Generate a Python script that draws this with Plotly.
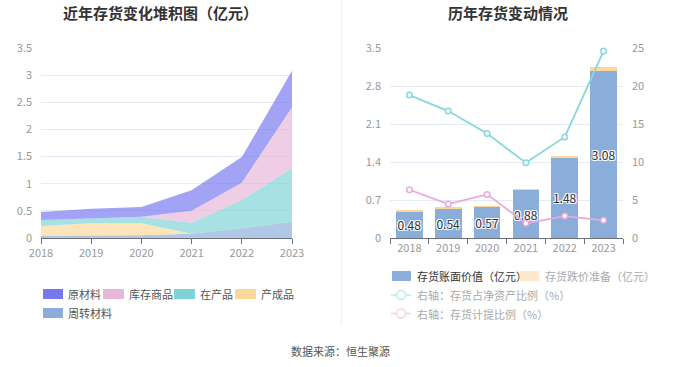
import plotly.graph_objects as go

W, H = 680, 367

years = ["2018", "2019", "2020", "2021", "2022", "2023"]

# left stacked area (亿元)
zhouzhuan = [0.04, 0.04, 0.05, 0.08, 0.18, 0.30]   # 周转材料
chengpin = [0.18, 0.23, 0.22, 0.00, 0.00, 0.00]    # 产成品
zaichan = [0.11, 0.09, 0.12, 0.20, 0.52, 0.99]     # 在产品
kucun = [0.00, 0.00, 0.00, 0.22, 0.32, 1.12]       # 库存商品
yuancailiao = [0.15, 0.18, 0.18, 0.38, 0.47, 0.67] # 原材料

# right chart
book_value = [0.48, 0.54, 0.57, 0.88, 1.48, 3.08]  # 存货账面价值
reserve = [0.03, 0.025, 0.025, 0.02, 0.03, 0.07]   # 存货跌价准备
ratio_net = [18.8, 16.7, 13.75, 9.9, 13.3, 24.6]   # 存货占净资产比例 %
ratio_prov = [6.35, 4.47, 5.74, 1.93, 2.89, 2.32]  # 存货计提比例 %

left_ticks = [0, 0.5, 1, 1.5, 2, 2.5, 3, 3.5]
right_left_ticks = [0, 0.7, 1.4, 2.1, 2.8, 3.5]
right_right_ticks = [0, 5, 10, 15, 20, 25]

FONT = "Noto Sans CJK SC"
C_YCL = "#7678ef"
C_KC = "#e8b6d9"
C_ZC = "#7fd3d6"
C_CP = "#fdd796"
C_ZZ = "#8badd9"


def px(x):
    return x / W


def py(y):
    return 1 - y / H


def rgba(hexc, a):
    h = hexc.lstrip("#")
    r, g, b = int(h[0:2], 16), int(h[2:4], 16), int(h[4:6], 16)
    return f"rgba({r},{g},{b},{a})"


fig = go.Figure()

area_series = [
    ("周转材料", zhouzhuan, C_ZZ),
    ("产成品", chengpin, C_CP),
    ("在产品", zaichan, C_ZC),
    ("库存商品", kucun, C_KC),
    ("原材料", yuancailiao, C_YCL),
]
for name, vals, col in area_series:
    fig.add_trace(go.Scatter(
        x=years, y=vals, name=name, stackgroup="s", mode="lines",
        line=dict(width=0, color=col), fillcolor=rgba(col, 0.68),
        xaxis="x", yaxis="y", showlegend=False,
    ))

fig.add_trace(go.Bar(
    x=years, y=book_value, name="存货账面价值（亿元）", marker=dict(color=C_ZZ, line=dict(width=0)),
    width=0.69, xaxis="x2", yaxis="y2", showlegend=False,
    text=[f"{v:.2f}" for v in book_value], textposition="inside", insidetextanchor="middle",
    textangle=0,
    textfont=dict(color="#333333", size=12, family=FONT,
                  shadow="1px 1px 0 #fff, -1px -1px 0 #fff, 1px -1px 0 #fff, -1px 1px 0 #fff"),
    constraintext="none", cliponaxis=False,
))
fig.add_trace(go.Bar(
    x=years, y=reserve, name="存货跌价准备（亿元）", marker=dict(color=C_CP, line=dict(width=0)),
    width=0.69, xaxis="x2", yaxis="y2", showlegend=False,
))
fig.add_trace(go.Scatter(
    x=years, y=ratio_net, mode="lines+markers", name="右轴：存货占净资产比例（%）",
    line=dict(color="#86d8dc", width=1.8),
    marker=dict(symbol="circle", size=5.5, color="white", line=dict(color="#86d8dc", width=1.5)),
    xaxis="x2", yaxis="y3", showlegend=False, cliponaxis=False,
))
fig.add_trace(go.Scatter(
    x=years, y=ratio_prov, mode="lines+markers", name="右轴：存货计提比例（%）",
    line=dict(color="#e7a9dc", width=1.8),
    marker=dict(symbol="circle", size=5.5, color="white", line=dict(color="#e7a9dc", width=1.5)),
    xaxis="x2", yaxis="y3", showlegend=False, cliponaxis=False,
))

ydom = [py(238), py(48)]
tickfont = dict(family=FONT, size=11, color="#999999")
axis_line = "#6e7079"
grid = "#e6eaf4"

layout = dict(
    template="none",
    width=W, height=H, margin=dict(l=0, r=0, t=0, b=0, pad=0, autoexpand=False),
    paper_bgcolor="white", plot_bgcolor="white",
    font=dict(family=FONT),
    barmode="stack", bargap=0.31, showlegend=False, hovermode=False,
    xaxis=dict(domain=[px(41), px(292)], type="category", range=[0, 5],
               showline=True, linecolor=axis_line, linewidth=1, ticks="outside", ticklen=5,
               tickcolor=axis_line, tickfont=tickfont, showgrid=False, anchor="y",
               automargin=False, zeroline=False),
    yaxis=dict(domain=ydom, range=[0, 3.5], tickvals=left_ticks,
               ticktext=[f"{v:g}" for v in left_ticks],
               showgrid=True, gridcolor=grid, gridwidth=1, zeroline=False,
               showline=False, tickfont=tickfont, ticks="", anchor="x",
               automargin=False, ticklabelstandoff=8),
    xaxis2=dict(domain=[px(390), px(623)], type="category", range=[-0.5, 5.5],
                showline=True, linecolor=axis_line, linewidth=1, ticks="outside", ticklen=5,
                tickcolor=axis_line, tickson="boundaries", tickfont=tickfont,
                showgrid=False, anchor="y2", automargin=False, zeroline=False),
    yaxis2=dict(domain=ydom, range=[0, 3.5], tickvals=right_left_ticks,
                ticktext=[f"{v:g}" for v in right_left_ticks],
                showgrid=True, gridcolor=grid, zeroline=False, showline=False,
                tickfont=tickfont, ticks="", anchor="x2", automargin=False,
                ticklabelstandoff=8),
    yaxis3=dict(range=[0, 25], tickvals=right_right_ticks,
                ticktext=[str(v) for v in right_right_ticks],
                overlaying="y2", side="right", anchor="x2", showgrid=False,
                zeroline=False, showline=False, tickfont=tickfont, ticks="",
                automargin=False, ticklabelstandoff=8),
)
fig.update_layout(**layout)

shapes = []
annos = []

# titles
annos.append(dict(x=px(160), y=py(13), xref="paper", yref="paper", text="<b>近年存货变化堆积图（亿元）</b>",
                  showarrow=False, font=dict(family=FONT, size=15, color="#333333"),
                  xanchor="center", yanchor="middle"))
annos.append(dict(x=px(508), y=py(13), xref="paper", yref="paper", text="<b>历年存货变动情况</b>",
                  showarrow=False, font=dict(family=FONT, size=15, color="#333333"),
                  xanchor="center", yanchor="middle"))
# source
annos.append(dict(x=px(340), y=py(351), xref="paper", yref="paper", text="数据来源：恒生聚源",
                  showarrow=False, font=dict(family=FONT, size=11, color="#555555"),
                  xanchor="center", yanchor="middle"))

# separator
shapes.append(dict(type="line", xref="paper", yref="paper", x0=px(341.5), x1=px(341.5),
                   y0=py(0), y1=py(325), line=dict(color="#f0f0f0", width=1)))


def swatch(x0, x1, yc, color):
    shapes.append(dict(type="rect", xref="paper", yref="paper", x0=px(x0), x1=px(x1),
                       y0=py(yc + 5), y1=py(yc - 5), fillcolor=color, line=dict(width=0)))


def label(x, yc, text, color="#555555"):
    annos.append(dict(x=px(x), y=py(yc), xref="paper", yref="paper", text=text, showarrow=False,
                      font=dict(family=FONT, size=11, color=color), xanchor="left", yanchor="middle"))


def line_icon(x0, x1, yc, color):
    shapes.append(dict(type="line", xref="paper", yref="paper", x0=px(x0), x1=px(x1),
                       y0=py(yc), y1=py(yc), line=dict(color=color, width=1.5)))
    cx = (x0 + x1) / 2
    shapes.append(dict(type="circle", xref="paper", yref="paper", x0=px(cx - 4.5), x1=px(cx + 4.5),
                       y0=py(yc + 4.5), y1=py(yc - 4.5), fillcolor="white",
                       line=dict(color=color, width=1.5)))


# left legend
swatch(43, 63, 294, C_YCL); label(66, 294, "原材料")
swatch(103, 124, 294, C_KC); label(127, 294, "库存商品")
swatch(174, 195, 294, C_ZC); label(198, 294, "在产品")
swatch(235, 256, 294, C_CP); label(259, 294, "产成品")
swatch(43, 63, 313, C_ZZ); label(66, 313, "周转材料")

# right legend
swatch(392, 411, 276, C_ZZ); label(415, 276, "存货账面价值（亿元）", "#333333")
swatch(520, 539, 276, "#fde9c9"); label(543, 276, "存货跌价准备（亿元）", "#aaaaaa")
line_icon(391, 411, 295, "#bfeaee"); label(415, 295, "右轴：存货占净资产比例（%）", "#aaaaaa")
line_icon(391, 411, 313.5, "#f3d3ec"); label(415, 313.5, "右轴：存货计提比例（%）", "#aaaaaa")

fig.update_layout(shapes=shapes, annotations=annos)

fig.write_html(
    "out.html",
    config={"displayModeBar": False, "staticPlot": True},
    post_script="document.body.style.margin='0';document.body.style.overflow='hidden';",
)
